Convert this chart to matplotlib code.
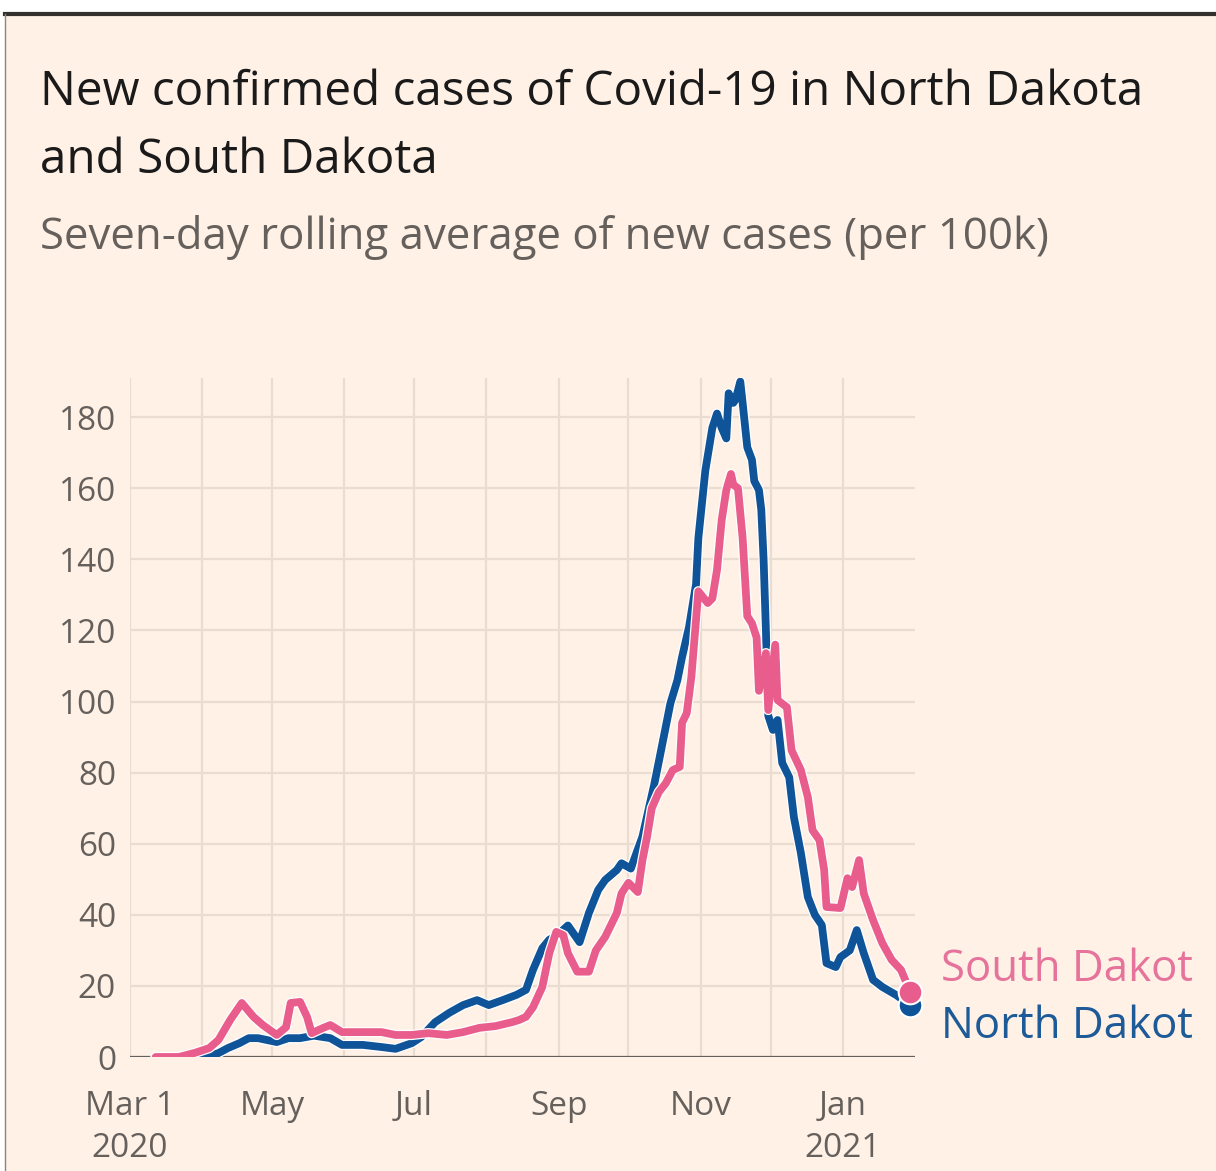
import datetime as dt
import matplotlib
matplotlib.use('Agg')
import matplotlib.pyplot as plt
import matplotlib.patheffects as pe
from matplotlib.patches import Rectangle
from matplotlib.lines import Line2D

# Seven-day rolling average of new cases per 100k.
sd_dates = ['2020-03-12', '2020-03-22', '2020-03-29', '2020-04-04', '2020-04-08',
            '2020-04-13', '2020-04-18', '2020-04-23', '2020-04-27', '2020-05-03',
            '2020-05-07', '2020-05-09', '2020-05-13', '2020-05-16', '2020-05-18',
            '2020-05-23', '2020-05-26', '2020-05-31', '2020-06-09', '2020-06-17',
            '2020-06-23', '2020-06-30', '2020-07-07', '2020-07-15', '2020-07-22',
            '2020-07-29', '2020-08-05', '2020-08-12', '2020-08-15', '2020-08-18',
            '2020-08-21', '2020-08-25', '2020-08-28', '2020-08-31', '2020-09-03',
            '2020-09-05', '2020-09-09', '2020-09-14', '2020-09-17', '2020-09-21',
            '2020-09-26', '2020-09-28', '2020-10-01', '2020-10-05', '2020-10-07',
            '2020-10-09', '2020-10-11', '2020-10-14', '2020-10-17', '2020-10-20',
            '2020-10-23', '2020-10-24', '2020-10-26', '2020-10-28', '2020-10-30',
            '2020-10-31', '2020-11-04', '2020-11-06', '2020-11-08', '2020-11-10',
            '2020-11-12', '2020-11-14', '2020-11-15', '2020-11-17', '2020-11-19',
            '2020-11-21', '2020-11-23', '2020-11-25', '2020-11-26', '2020-11-29',
            '2020-11-30', '2020-12-03', '2020-12-04', '2020-12-08', '2020-12-10',
            '2020-12-14', '2020-12-17', '2020-12-19', '2020-12-22', '2020-12-24',
            '2020-12-25', '2020-12-31', '2021-01-03', '2021-01-05', '2021-01-08',
            '2021-01-10', '2021-01-14', '2021-01-18', '2021-01-22', '2021-01-26',
            '2021-01-30']
sd_values = [0, 0, 1.2, 2.5, 4.8,
             10.4, 15.2, 11.3, 9.0, 6.2,
             8.4, 15.2, 15.5, 11.3, 6.7,
             8.2, 9.0, 7.0, 7.0, 7.0,
             6.2, 6.2, 6.7, 6.2, 7.0,
             8.2, 8.7, 9.8, 10.4, 11.3,
             14.0, 19.7, 29.2, 35.2, 34.3,
             29.2, 24.0, 24.0, 30.0, 33.8,
             40.5, 46.0, 49.0, 46.4, 55.4,
             62.0, 70.0, 74.5, 77.0, 80.7,
             81.6, 94.0, 96.7, 107.0, 123.0,
             131.0, 127.7, 129.0, 137.0, 151.0,
             159.5, 164.0, 161.0, 160.0, 146.0,
             124.0, 122.0, 118.0, 103.0, 113.6,
             97.6, 116.0, 100.4, 98.4, 86.3,
             80.7, 73.1, 63.8, 61.0, 52.6,
             42.2, 41.9, 50.3, 47.8, 55.4,
             46.0, 38.5, 32.0, 27.3, 24.5,
             18.3]

nd_dates = ['2020-03-12', '2020-03-31', '2020-04-05', '2020-04-08', '2020-04-12',
            '2020-04-17', '2020-04-21', '2020-04-25', '2020-05-03', '2020-05-08',
            '2020-05-13', '2020-05-19', '2020-05-26', '2020-05-31', '2020-06-09',
            '2020-06-17', '2020-06-23', '2020-06-30', '2020-07-04', '2020-07-10',
            '2020-07-16', '2020-07-22', '2020-07-28', '2020-08-02', '2020-08-08',
            '2020-08-14', '2020-08-18', '2020-08-21', '2020-08-25', '2020-08-28',
            '2020-08-31', '2020-09-05', '2020-09-10', '2020-09-14', '2020-09-18',
            '2020-09-21', '2020-09-26', '2020-09-28', '2020-10-02', '2020-10-07',
            '2020-10-12', '2020-10-15', '2020-10-19', '2020-10-22', '2020-10-24',
            '2020-10-27', '2020-10-30', '2020-10-31', '2020-11-03', '2020-11-06',
            '2020-11-08', '2020-11-10', '2020-11-12', '2020-11-13', '2020-11-15',
            '2020-11-16', '2020-11-18', '2020-11-19', '2020-11-21', '2020-11-23',
            '2020-11-24', '2020-11-26', '2020-11-27', '2020-11-28', '2020-11-29',
            '2020-11-30', '2020-12-02', '2020-12-04', '2020-12-06', '2020-12-09',
            '2020-12-11', '2020-12-14', '2020-12-17', '2020-12-20', '2020-12-23',
            '2020-12-25', '2020-12-29', '2020-12-31', '2021-01-04', '2021-01-07',
            '2021-01-10', '2021-01-14', '2021-01-18', '2021-01-24', '2021-01-30']
nd_values = [0, 0, 0.5, 1.1, 2.5,
             3.9, 5.3, 5.3, 4.2, 5.3,
             5.3, 6.0, 5.3, 3.4, 3.4,
             2.8, 2.3, 3.9, 5.6, 9.8,
             12.4, 14.6, 16.0, 14.6, 16.0,
             17.5, 18.9, 24.5, 30.6, 33.0,
             34.0, 37.0, 32.3, 40.5, 47.0,
             49.8, 52.6, 54.5, 53.0, 62.0,
             76.5, 86.3, 99.5, 106.0, 112.5,
             121.0, 133.0, 146.0, 165.0, 177.0,
             181.0, 177.0, 174.0, 186.7, 184.0,
             185.0, 190.0, 184.0, 171.5, 168.0,
             162.0, 159.5, 154.0, 140.0, 120.0,
             96.0, 92.0, 94.8, 82.7, 78.7,
             67.5, 57.4, 45.0, 40.0, 37.1,
             26.4, 25.3, 28.1, 30.0, 35.7,
             29.2, 21.7, 19.7, 17.4, 14.5]

month_ticks = ['2020-03-01', '2020-04-01', '2020-05-01', '2020-06-01', '2020-07-01',
               '2020-08-01', '2020-09-01', '2020-10-01', '2020-11-01', '2020-12-01',
               '2021-01-01']
month_labels = ['Mar 1\n2020', '', 'May', '', 'Jul', '', 'Sep', '', 'Nov', '', 'Jan\n2021']
y_ticks = [0, 20, 40, 60, 80, 100, 120, 140, 160, 180]

BG = '#FFF1E6'
PINK = '#E95D8C'
BLUE = '#0F5499'
GREY = '#66605C'
GRID = '#E9DCD1'

W, H = 1216, 1171


def toDates(strings):
    return [dt.datetime.strptime(s, '%Y-%m-%d') for s in strings]


# Draws one state's line with a thin white halo and the end dot.
def drawState(ax, dates, values, color, z):
    halo = [pe.Stroke(linewidth=7.4, foreground='white'), pe.Normal()]
    ax.plot(dates, values, color=color, lw=5.6, solid_joinstyle='round',
            solid_capstyle='round', path_effects=halo, zorder=z)
    ax.plot(dates[-1], values[-1], 'o', ms=17, color=color, mec='white',
            mew=1.5, zorder=z + 0.5, clip_on=False)


def main():
    plt.rcParams['font.family'] = ['Open Sans', 'DejaVu Sans']
    fig = plt.figure(figsize=(W / 100, H / 100), dpi=100, facecolor='white')

    # cream panel with the dark rule on top
    fig.patches.append(Rectangle((5 / W, 0), 1 - 5 / W, 1 - 15 / H, transform=fig.transFigure,
                                 facecolor=BG, edgecolor='none', zorder=-10))
    fig.add_artist(Line2D([5 / W, 1], [1 - 14 / H] * 2, color='#33302E', lw=3))
    fig.add_artist(Line2D([4.5 / W] * 2, [0, 1 - 14 / H], color='#8A8580', lw=1))

    fig.text(40 / W, 1 - 92 / H, 'New confirmed cases of Covid-19 in North Dakota',
             fontsize=34.3, color='#1A1A1A', va='center')
    fig.text(40 / W, 1 - 160 / H, 'and South Dakota',
             fontsize=34.3, color='#1A1A1A', va='center')
    fig.text(40 / W, 1 - 237 / H, 'Seven-day rolling average of new cases (per 100k)',
             fontsize=31.5, color=GREY, va='center')

    ax = fig.add_axes([130 / W, 114 / H, 785 / W, 679 / H])
    ax.set_facecolor(BG)
    ax.set_xlim(dt.datetime(2020, 3, 1), dt.datetime(2021, 2, 1))
    ax.set_ylim(0, 191)
    for s in ax.spines.values():
        s.set_visible(False)

    ax.set_xticks(toDates(month_ticks))
    ax.set_xticklabels(month_labels, linespacing=1.35)
    ax.set_yticks(y_ticks)
    ax.tick_params(axis='both', length=0, labelsize=24, labelcolor=GREY)
    ax.tick_params(axis='x', pad=24)
    ax.tick_params(axis='y', pad=10)
    ax.grid(color=GRID, lw=1.6, zorder=0)
    ax.set_axisbelow(True)
    ax.axhline(0, color=GREY, lw=1.6, zorder=1)

    drawState(ax, toDates(nd_dates), nd_values, BLUE, 3)
    drawState(ax, toDates(sd_dates), sd_values, PINK, 5)

    fig.text(941 / W, 1 - 970 / H, 'South Dakot', fontsize=31.5, color='#E6739B', va='center')
    fig.text(941 / W, 1 - 1027 / H, 'North Dakot', fontsize=31.5, color='#1D5A98', va='center')

    fig.savefig('out.png', dpi=100, facecolor=fig.get_facecolor())


if __name__ == "__main__":
    main()
